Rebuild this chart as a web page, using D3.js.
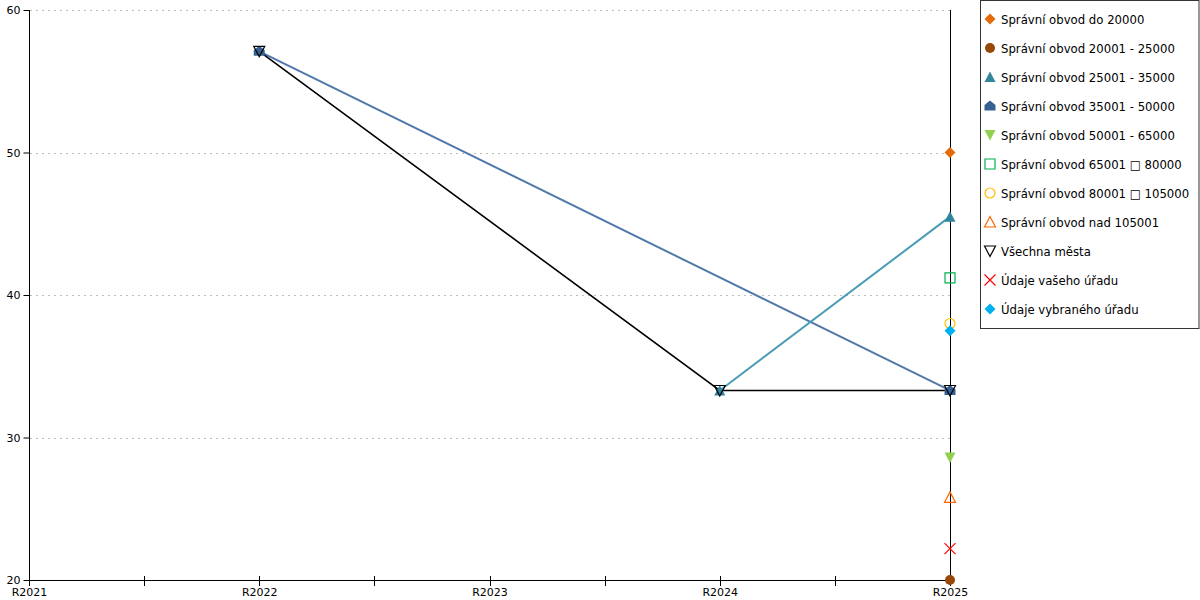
<!DOCTYPE html>
<html><head><meta charset="utf-8">
<script src="https://cdn.jsdelivr.net/npm/d3@7"></script>
<style>body{margin:0;background:#fff}svg{display:block}text{font-family:"DejaVu Sans",Verdana,sans-serif}</style>
</head><body><svg id="c" width="1200" height="600"></svg>
<script>
const categories = ["R2021","R2022","R2023","R2024","R2025"];
const yTicks = [20,30,40,50,60];
const seriesNames = ["Správní obvod do 20000","Správní obvod 20001 - 25000","Správní obvod 25001 - 35000","Správní obvod 35001 - 50000","Správní obvod 50001 - 65000","Správní obvod 65001 \u25A1 80000","Správní obvod 80001 \u25A1 105000","Správní obvod nad 105001","Všechna města","Údaje vašeho úřadu","Údaje vybraného úřadu"];
const sDo20000   = [null,null,null,null,50.0];
const s20_25     = [null,null,null,null,20.0];
const s25_35     = [null,null,null,33.3,45.5];
const s35_50     = [null,57.1,null,null,33.3];
const s50_65     = [null,null,null,null,28.6];
const s65_80     = [null,null,null,null,41.2];
const s80_105    = [null,null,null,null,38.0];
const sNad105    = [null,null,null,null,25.8];
const sVsechna   = [null,57.1,null,33.3,33.3];
const sVas       = [null,null,null,null,22.2];
const sVybrany   = [null,null,null,null,37.5];
const allValues = [sDo20000,s20_25,s25_35,s35_50,s50_65,s65_80,s80_105,sNad105,sVsechna,sVas,sVybrany];

const styles = [
 {shape:"diamond", fill:"#e36c09", stroke:"none", line:null},
 {shape:"circle", fill:"#974806", stroke:"none", line:null},
 {shape:"triangle", fill:"#31859c", stroke:"none", line:"#4a9cb4"},
 {shape:"house", fill:"#376092", stroke:"none", line:"#5079aa"},
 {shape:"tridown", fill:"#92d050", stroke:"none", line:null},
 {shape:"square", fill:"none", stroke:"#00b050", line:null},
 {shape:"circle", fill:"none", stroke:"#ffc000", line:null},
 {shape:"triangle", fill:"none", stroke:"#ff6600", line:null},
 {shape:"tridown", fill:"none", stroke:"#000000", line:"#000000"},
 {shape:"x", fill:"none", stroke:"#ff0000", line:null},
 {shape:"diamond", fill:"#00b0f0", stroke:"none", line:null}
];

function shapePath(t){
  const s=5.5;
  switch(t){
    case "diamond": return `M0,${-s}L${s},0L0,${s}L${-s},0Z`;
    case "circle": return d3.arc()({innerRadius:0,outerRadius:s-0.5,startAngle:0,endAngle:2*Math.PI});
    case "triangle": return `M0,${-s}L${s},${s-0.5}L${-s},${s-0.5}Z`;
    case "tridown": return `M${-s},${-s+0.5}L${s},${-s+0.5}L0,${s}Z`;
    case "house": return `M0,${-s}L${s},${-1}L${s},${s-1}L${-s},${s-1}L${-s},${-1}Z`;
    case "square": return `M${-s+0.5},${-s+0.5}H${s-0.5}V${s-0.5}H${-s+0.5}Z`;
    case "x": return `M${-s},${-s}L${s},${s}M${s},${-s}L${-s},${s}`;
  }
}

const svg = d3.select("#c");
const x = d3.scalePoint().domain(categories).range([29,950]);
const y = d3.scaleLinear().domain([20,60]).range([580,10]);

// grid
svg.append("g").selectAll("line").data(yTicks.filter(d=>d>20)).join("line")
  .attr("x1",30).attr("x2",950).attr("y1",d=>Math.round(y(d))+0.5).attr("y2",d=>Math.round(y(d))+0.5)
  .attr("stroke","#bdbdbd").attr("stroke-dasharray","2,4");

// axes
const yAxis = svg.append("g").attr("transform","translate(29.5,0)")
  .call(d3.axisLeft(y).tickValues(yTicks).tickSize(6).tickPadding(3).tickFormat(d3.format("d")));
yAxis.select(".domain").attr("d","M0,10V580");
yAxis.selectAll("text").attr("font-size","11px").attr("fill","#000").attr("font-family","DejaVu Sans, Verdana, sans-serif");

const xAxis = svg.append("g").attr("transform","translate(0,580.5)")
  .call(d3.axisBottom(x).tickSize(0).tickPadding(8));
xAxis.select(".domain").attr("d","M29,0H950");
xAxis.selectAll("text").attr("font-size","11px").attr("fill","#000").attr("font-family","DejaVu Sans, Verdana, sans-serif");
// tick marks at categories and midpoints
const tickPos = [];
for(let i=0;i<categories.length;i++){ tickPos.push(x(categories[i])); if(i<categories.length-1) tickPos.push((x(categories[i])+x(categories[i+1]))/2); }
svg.append("g").selectAll("line").data(tickPos).join("line")
  .attr("x1",d=>Math.round(d)+0.5).attr("x2",d=>Math.round(d)+0.5).attr("y1",576).attr("y2",586).attr("stroke","#000");

// vertical line at last category
svg.append("line").attr("x1",950.5).attr("x2",950.5).attr("y1",10).attr("y2",580).attr("stroke","#000");

// lines (connect across gaps)
const lineGen = d3.line().x(d=>x(d.c)).y(d=>y(d.v));
const lineOrder = [3,2,8];
lineOrder.forEach(i=>{
  const pts = allValues[i].map((v,j)=>({c:categories[j],v})).filter(d=>d.v!=null);
  svg.append("path").attr("d",lineGen(pts)).attr("fill","none")
    .attr("stroke",styles[i].line).attr("stroke-width",i===8?1.6:2);
});

// markers
allValues.forEach((vals,i)=>{
  const st = styles[i];
  const pts = vals.map((v,j)=>({c:categories[j],v})).filter(d=>d.v!=null);
  svg.append("g").selectAll("path").data(pts).join("path")
    .attr("transform",d=>`translate(${x(d.c)},${y(d.v)})`)
    .attr("d",shapePath(st.shape))
    .attr("fill",st.fill).attr("stroke",st.stroke==="none"?null:st.stroke).attr("stroke-width",1.2);
});

// legend
const lg = svg.append("g");
lg.append("rect").attr("x",980.5).attr("y",0.5).attr("width",218.5).attr("height",328).attr("fill","#fff").attr("stroke","#333");
seriesNames.forEach((n,i)=>{
  const st = styles[i];
  const yy = 19+29*i;
  lg.append("path").attr("transform",`translate(990,${yy})`).attr("d",shapePath(st.shape))
    .attr("fill",st.fill).attr("stroke",st.stroke==="none"?null:st.stroke).attr("stroke-width",1.2);
  lg.append("text").attr("x",1001).attr("y",yy+4.5).attr("font-size","11.7px").attr("fill","#000").text(n);
});
</script></body></html>
